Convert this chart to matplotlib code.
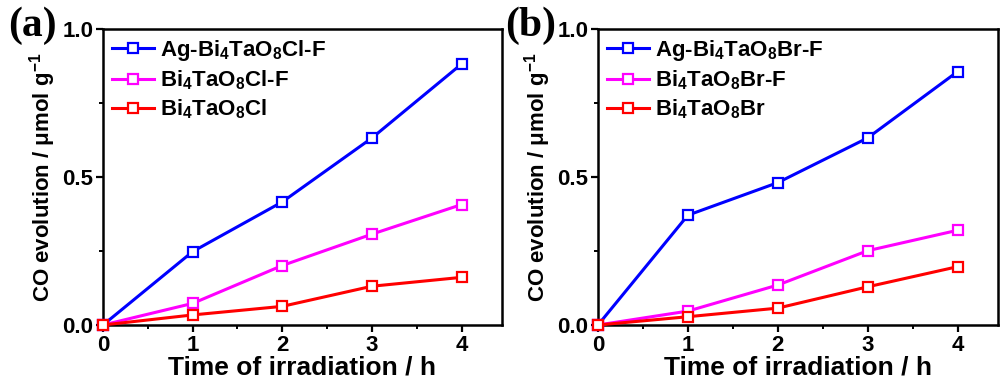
import matplotlib
matplotlib.use("Agg")
import matplotlib.pyplot as plt
from matplotlib.ticker import MultipleLocator

plt.rcParams['font.family'] = ['Liberation Sans', 'DejaVu Sans']
plt.rcParams['font.weight'] = 'bold'
plt.rcParams['mathtext.fontset'] = 'custom'
plt.rcParams['mathtext.rm'] = 'Liberation Sans:bold'
plt.rcParams['mathtext.bf'] = 'Liberation Sans:bold'
plt.rcParams['mathtext.it'] = 'Liberation Sans:bold'
plt.rcParams['mathtext.default'] = 'bf'

hours = [0, 1, 2, 3, 4]

# Panel (a): chloride series
cl_labels = [r'Ag-Bi$_4$TaO$_8$Cl-F', r'Bi$_4$TaO$_8$Cl-F', r'Bi$_4$TaO$_8$Cl']
cl_ag_f = [0.0, 0.248, 0.416, 0.632, 0.882]
cl_f = [0.0, 0.073, 0.201, 0.307, 0.407]
cl_plain = [0.0, 0.034, 0.063, 0.131, 0.161]

# Panel (b): bromide series
br_labels = [r'Ag-Bi$_4$TaO$_8$Br-F', r'Bi$_4$TaO$_8$Br-F', r'Bi$_4$TaO$_8$Br']
br_ag_f = [0.0, 0.371, 0.481, 0.632, 0.856]
br_f = [0.0, 0.047, 0.135, 0.251, 0.320]
br_plain = [0.0, 0.028, 0.057, 0.129, 0.197]

colors = ['#0000ff', '#ff00ff', '#ff0000']

fig = plt.figure(figsize=(10, 3.83), dpi=100)
W, H = 1000, 383
panels = [
    (103, 502, '(a)', 8, [cl_ag_f, cl_f, cl_plain], cl_labels),
    (598, 998, '(b)', 505, [br_ag_f, br_f, br_plain], br_labels),
]
top, bottom = 29, 325

for left, right, tag, tagx, series, labels in panels:
    ax = fig.add_axes([left / W, 1 - bottom / H, (right - left) / W, (bottom - top) / H])
    for ys, lab, c in zip(series, labels, colors):
        ax.plot(hours, ys, color=c, lw=2.2, marker='s', ms=6.5, mfc='white',
                mec=c, mew=1.6, label=lab, clip_on=False, zorder=3)
    ax.set_xlim(0, 4.45)
    ax.set_ylim(0, 1.0)
    ax.xaxis.set_minor_locator(MultipleLocator(0.5))
    ax.yaxis.set_minor_locator(MultipleLocator(0.25))
    ax.set_xticks([0, 1, 2, 3, 4])
    ax.set_yticks([0.0, 0.5, 1.0])
    ax.set_yticklabels(['0.0', '0.5', '1.0'])
    ax.tick_params(which='major', direction='out', length=5, width=1.6,
                   labelsize=16, pad=2)
    ax.tick_params(which='minor', direction='out', length=3, width=1.4)
    for lbl in ax.get_xticklabels() + ax.get_yticklabels():
        lbl.set_fontweight('bold')
    for s in ax.spines.values():
        s.set_linewidth(1.8)
    ax.set_xlabel('Time of irradiation / h', fontsize=19, fontweight='bold', labelpad=0)
    ax.set_ylabel(r'CO evolution / μmol g$^{-1}$', fontsize=16,
                  fontweight='bold', labelpad=3)
    ax.legend(loc='upper left', frameon=False, fontsize=16, handlelength=1.9,
              handletextpad=0.25, labelspacing=0.25, borderaxespad=0.2,
              borderpad=0.2, bbox_to_anchor=(0.0, 1.0))
    fig.text(tagx / W, 1 - 7 / H, tag, fontsize=30, fontweight='bold',
             family='Liberation Serif', va='top', ha='left')

fig.savefig('out.png', dpi=100)
